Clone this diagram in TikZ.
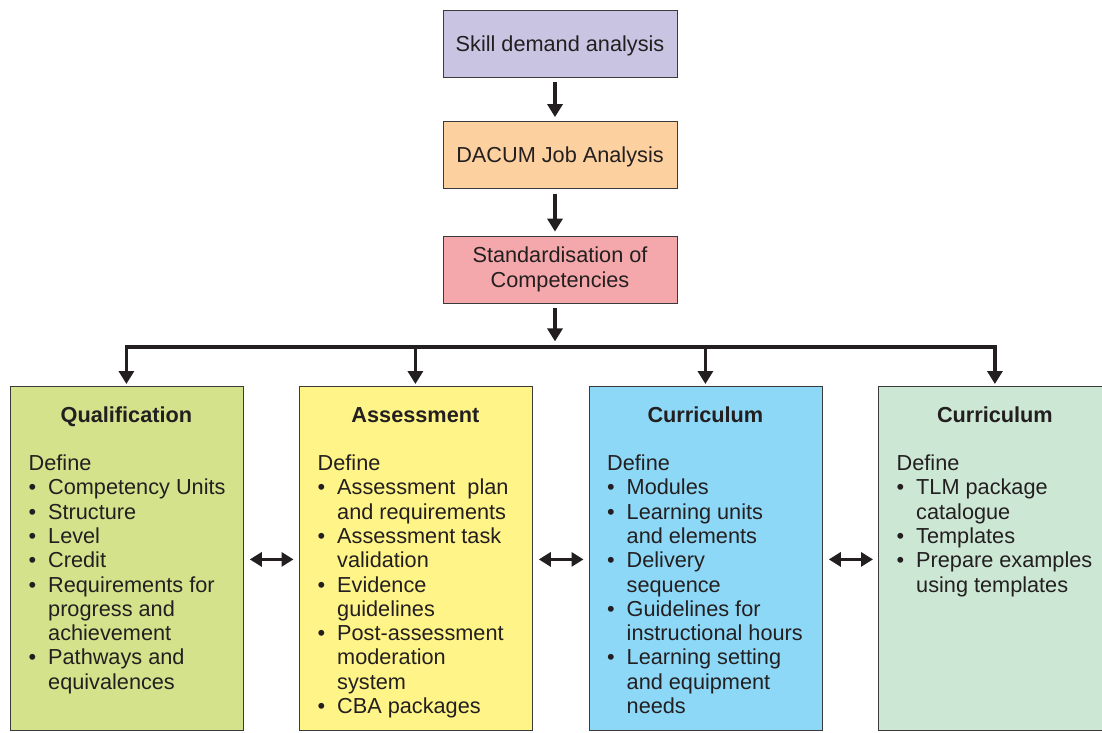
\documentclass[tikz,border=0pt]{standalone}
\usepackage{fontspec}
\setmainfont{Liberation Sans}
\usetikzlibrary{arrows.meta,calc}
\definecolor{lav}{HTML}{C8C4E2}
\definecolor{peach}{HTML}{FDD19F}
\definecolor{pinkc}{HTML}{F5A8AB}
\definecolor{qgreen}{HTML}{D3E28B}
\definecolor{ayellow}{HTML}{FFF487}
\definecolor{cblue}{HTML}{8ED8F7}
\definecolor{mint}{HTML}{CDE7D5}
\definecolor{ink}{HTML}{231F20}
\definecolor{edge}{HTML}{3A3A3A}
\newcommand\Li[1]{\hbox{\makebox[19.5pt][l]{\textbullet}#1}}
\newcommand\Lc[1]{\hbox{\hspace*{19.5pt}#1}}
\newcommand\Ld[1]{\hbox{#1}}
\tikzset{
  txt/.style={font=\fontsize{21.7pt}{24.3pt}\selectfont, text=ink},
  topbox/.style={txt, draw=edge, line width=0.8pt, minimum width=234pt, minimum height=67pt, inner sep=0pt, align=center},
  onebox/.style={topbox, text height=15.4pt, text depth=0pt},
  colbox/.style={draw=edge, line width=0.8pt, minimum width=233pt, minimum height=344.5pt, inner sep=0pt, anchor=north west},
  ttl/.style={txt, font=\fontsize{21.7pt}{24.3pt}\selectfont\bfseries, anchor=base, inner sep=0pt},
  lst/.style={txt, anchor=base west, inner sep=0pt},
  arr/.style={draw=ink, line width=3.5pt, -{Triangle[length=13pt,width=15pt]}},
  barl/.style={draw=ink, line width=3.5pt},
  darr/.style={draw=ink, line width=3pt, {Triangle[length=12pt,width=14pt]}-{Triangle[length=12pt,width=14pt]}}
}
\begin{document}
\begin{tikzpicture}[x=1pt,y=-1pt]
\useasboundingbox (0,0) rectangle (1102,732);
\clip (0,0) rectangle (1102,732);
\fill[white] (0,0) rectangle (1102,732);
% top chain
\node[onebox, fill=lav] (skill) at (560,43.5) {Skill demand analysis};
\node[onebox, fill=peach] (dacum) at (560,155) {DACUM Job Analysis};
\node[topbox, fill=pinkc] (std) at (560,269.5) {Standardisation of\\Competencies};
% columns
\node[colbox, fill=qgreen] (q) at (9.5,385.5) {};
\node[colbox, fill=ayellow] (a) at (298.5,385.5) {};
\node[colbox, fill=cblue] (c1) at (588.5,385.5) {};
\node[colbox, fill=mint] (c2) at (878,385.5) {};
% titles
\node[ttl] (qt) at ($(q.north)+(0,37)$) {Qualification};
\node[ttl] (at) at ($(a.north)+(0,37)$) {Assessment};
\node[ttl] (c1t) at ($(c1.north)+(0,37)$) {Curriculum};
\node[ttl] (c2t) at ($(c2.north)+(0,37)$) {Curriculum};
% lists
\node[lst] (ql) at ($(q.north west)+(19,85)$) {\vtop{\Ld{Define}\Li{Competency Units}\Li{Structure}\Li{Level}\Li{Credit}\Li{Requirements for}\Lc{progress and}\Lc{achievement}\Li{Pathways and}\Lc{equivalences}}};
\node[lst] (al) at ($(a.north west)+(19,85)$) {\vtop{\Ld{Define}\Li{Assessment\ \ plan}\Lc{and requirements}\Li{Assessment task}\Lc{validation}\Li{Evidence}\Lc{guidelines}\Li{Post-assessment}\Lc{moderation}\Lc{system}\Li{CBA packages}}};
\node[lst] (c1l) at ($(c1.north west)+(18.5,85)$) {\vtop{\Ld{Define}\Li{Modules}\Li{Learning units}\Lc{and elements}\Li{Delivery}\Lc{sequence}\Li{Guidelines for}\Lc{instructional hours}\Li{Learning setting}\Lc{and equipment}\Lc{needs}}};
\node[lst] (c2l) at ($(c2.north west)+(18.5,85)$) {\vtop{\Ld{Define}\Li{TLM package}\Lc{catalogue}\Li{Templates}\Li{Prepare examples}\Lc{using templates}}};
% chain arrows
\draw[arr, shorten <=5pt, shorten >=4pt] ([xshift=-5pt]skill.south) -- ([xshift=-5pt]dacum.north);
\draw[arr, shorten <=5pt, shorten >=4pt] ([xshift=-5pt]dacum.south) -- ([xshift=-5pt]std.north);
\coordinate (jn) at ($(std.south)+(-5,44)$);
\draw[arr, shorten <=5pt, shorten >=6pt] ([xshift=-5pt]std.south) -- (jn);
% distribution bar
\coordinate (b1) at ($(q.north)+(0,-38.5)$);
\coordinate (b4) at ($(c2.north)+(0,-38.5)$);
\draw[barl, line cap=rect] (b1) -- (b4);
\draw[arr, shorten >=1.5pt] (b1) -- (q.north);
\draw[arr, shorten >=1.5pt] (a.north |- b1) -- (a.north);
\draw[arr, shorten >=1.5pt] (c1.north |- b1) -- (c1.north);
\draw[arr, shorten >=1.5pt] (b4) -- (c2.north);
% double arrows
\draw[darr, shorten <=6.5pt, shorten >=5pt] ([yshift=-1.25pt]q.east) -- ([yshift=-1.25pt]a.west);
\draw[darr, shorten <=6.5pt, shorten >=5pt] ([yshift=-1.25pt]a.east) -- ([yshift=-1.25pt]c1.west);
\draw[darr, shorten <=6.5pt, shorten >=5pt] ([yshift=-1.25pt]c1.east) -- ([yshift=-1.25pt]c2.west);
\end{tikzpicture}
\end{document}
